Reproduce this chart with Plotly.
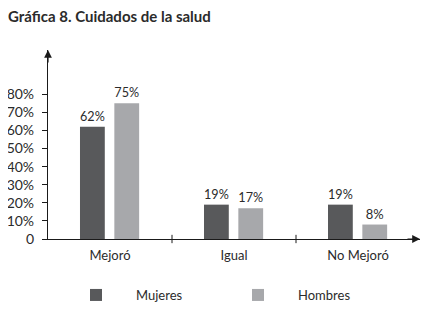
import plotly.graph_objects as go

categories = ["Mejoró", "Igual", "No Mejoró"]
mujeres = [62, 19, 19]
hombres = [75, 17, 8]
series_names = ["Mujeres", "Hombres"]
tick_vals = [0, 10, 20, 30, 40, 50, 60, 70, 80]
tick_text = ["0", "10%", "20%", "30%", "40%", "50%", "60%", "70%", "80%"]
title_text = "Gráfica 8. Cuidados de la salud"

FONT = "Lato"
TXT = "#2b2b2b"
C_M = "#58595b"
C_H = "#a7a8ab"

fig = go.Figure()
fig.add_trace(go.Bar(
    x=list(range(len(categories))), y=mujeres, name=series_names[0],
    marker=dict(color=C_M, line=dict(width=0)),
    width=0.2, offset=-0.242,
    text=[f"{v}%" for v in mujeres], textposition="outside",
    textfont=dict(family=FONT, size=13, color=TXT), cliponaxis=False,
))
fig.add_trace(go.Bar(
    x=list(range(len(categories))), y=hombres, name=series_names[1],
    marker=dict(color=C_H, line=dict(width=0)),
    width=0.2, offset=0.035,
    text=[f"{v}%" for v in hombres], textposition="outside",
    textfont=dict(family=FONT, size=13, color=TXT), cliponaxis=False,
))

W, H = 415, 297
L, R, T, B = 40, 3, 42, 66
fig.update_layout(
    width=W, height=H,
    margin=dict(l=L, r=R, t=T, b=B, pad=0, autoexpand=False),
    paper_bgcolor="white", plot_bgcolor="white",
    font=dict(family=FONT, color=TXT, size=12),
    title=dict(text=f"<b>{title_text}</b>", x=0, xanchor="left", xref="container",
               y=1-3/H, yanchor="top", yref="container",
               pad=dict(l=0, t=0, b=0, r=0),
               font=dict(family=FONT, size=15, color=TXT)),
    showlegend=True,
    legend=dict(orientation="h", x=8/372, xanchor="left", xref="paper",
                y=1-287/H, yanchor="middle", yref="container",
                entrywidth=77, entrywidthmode="pixels", itemwidth=70,
                font=dict(family=FONT, size=13, color=TXT),
                bgcolor="rgba(0,0,0,0)"),
    xaxis=dict(range=[-0.5, 2.5], tickmode="array",
               tickvals=list(range(len(categories))), ticktext=categories,
               ticks="", showgrid=False, zeroline=False,
               showline=True, linecolor="#1a1a1a", linewidth=1.2,
               tickfont=dict(family=FONT, size=13, color=TXT), ticklabelstandoff=4),
    yaxis=dict(range=[0, 104.5], tickmode="array", tickvals=tick_vals, ticktext=tick_text,
               ticks="outside", ticklen=5, tickcolor="#1a1a1a", tickwidth=1,
               showgrid=False, zeroline=False,
               showline=True, linecolor="#1a1a1a", linewidth=1.2,
               tickfont=dict(family=FONT, size=14, color=TXT), ticklabelstandoff=5),
)

# category separator ticks crossing the x axis
for xb in [0.5, 1.5]:
    fig.add_shape(type="line", xref="x", yref="paper", x0=xb, x1=xb, y0=-0.022, y1=0.022,
                  line=dict(color="#1a1a1a", width=1))

# axis arrows
fig.add_annotation(xref="paper", yref="paper", x=0, y=1, ax=0, ay=14,
                   showarrow=True, arrowhead=2, arrowsize=1.3, arrowwidth=1.2,
                   arrowcolor="#1a1a1a", text="")
fig.add_annotation(xref="paper", yref="paper", x=1, y=0, ax=-14, ay=0,
                   showarrow=True, arrowhead=2, arrowsize=1.3, arrowwidth=1.2,
                   arrowcolor="#1a1a1a", text="")

fig.write_html("out.html")
